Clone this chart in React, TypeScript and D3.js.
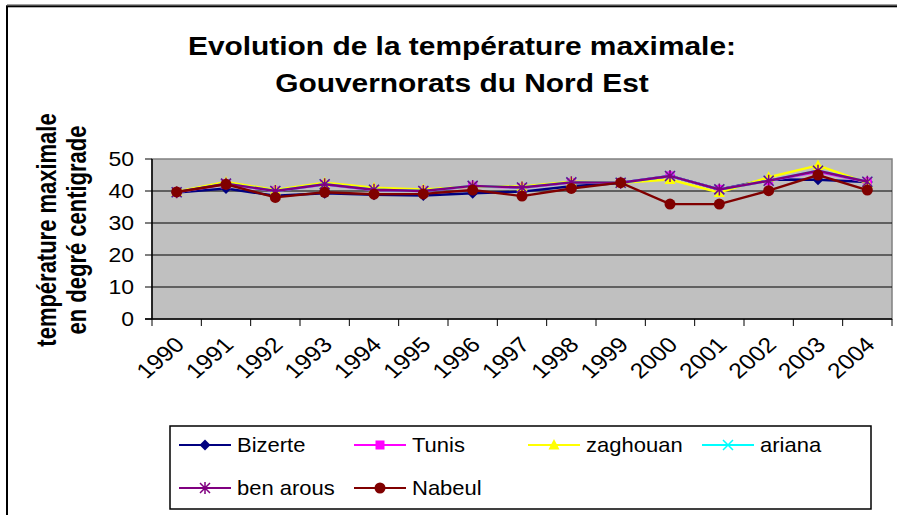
import React from "react";
import * as d3 from "d3";

const years = ["1990","1991","1992","1993","1994","1995","1996","1997","1998","1999","2000","2001","2002","2003","2004"];
const bizerte = [39.5, 40.8, 38.5, 39.3, 38.8, 38.6, 39.3, 39.8, 41.5, 42.5, 44.7, 40.5, 43.6, 43.5, 42.8];
const tunis = [39.6, 42.2, 40.0, 42.0, 40.3, 40.0, 41.5, 41.0, 42.6, 42.6, 44.7, 40.5, 43.2, 46.0, 42.8];
const zaghouan = [39.8, 42.8, 40.3, 42.6, 41.0, 40.5, 41.4, 41.4, 42.9, 42.6, 43.6, 39.5, 44.3, 48.0, 42.5];
const ariana = [39.6, 42.3, 40.0, 42.1, 40.4, 40.0, 41.6, 41.1, 42.7, 42.6, 44.7, 40.5, 43.2, 46.3, 42.9];
const benArous = [39.6, 42.3, 40.0, 42.1, 40.4, 40.0, 41.6, 41.1, 42.7, 42.6, 44.7, 40.5, 43.2, 46.3, 42.9];
const nabeul = [39.7, 42.1, 38.0, 39.6, 39.0, 39.1, 40.3, 38.4, 40.8, 42.6, 35.9, 35.9, 40.1, 45.0, 40.3];
const yTicks = [0, 10, 20, 30, 40, 50];

type Shape = "diamond" | "square" | "triangle" | "x" | "star" | "circle";
const series: { name: string; values: number[]; color: string; shape: Shape }[] = [
  { name: "Bizerte", values: bizerte, color: "#000080", shape: "diamond" },
  { name: "Tunis", values: tunis, color: "#FF00FF", shape: "square" },
  { name: "zaghouan", values: zaghouan, color: "#FFFF00", shape: "triangle" },
  { name: "ariana", values: ariana, color: "#00FFFF", shape: "x" },
  { name: "ben arous", values: benArous, color: "#800080", shape: "star" },
  { name: "Nabeul", values: nabeul, color: "#800000", shape: "circle" },
];

const SX = 1.15;
const FONT = "'Liberation Sans', Arial, sans-serif";

function Marker({ shape, color, x, y }: { shape: Shape; color: string; x: number; y: number }) {
  const t = `translate(${x},${y})`;
  switch (shape) {
    case "diamond":
      return <path transform={t} d="M0,-5.5L5.5,0L0,5.5L-5.5,0Z" fill={color} />;
    case "square":
      return <rect transform={t} x={-4.5} y={-4.5} width={9} height={9} fill={color} />;
    case "triangle":
      return <path transform={t} d="M0,-6L5.5,4.5L-5.5,4.5Z" fill={color} />;
    case "x":
      return <path transform={t} d="M-5,-5L5,5M5,-5L-5,5" stroke={color} strokeWidth={1.5} fill="none" />;
    case "star":
      return <path transform={t} d="M-5,-5L5,5M5,-5L-5,5M0,-6L0,6" stroke={color} strokeWidth={1.5} fill="none" />;
    case "circle":
      return <circle transform={t} r={5.5} fill={color} />;
  }
}

export default function App() {
  const left = 152, right = 892, top = 159, bottom = 319;
  const x = d3.scaleBand().domain(years).range([left, right]);
  const bw = x.bandwidth();
  const cx = (yr: string) => (x(yr) as number) + bw / 2;
  const y = d3.scaleLinear().domain([0, 50]).range([bottom, top]);
  const line = d3.line<number>().x((_, i) => cx(years[i])).y((v) => y(v));
  const boundaries = years.map((yr) => x(yr) as number).concat([right]);

  const legendCols = [179, 354, 528, 702];
  const legendRows = [445, 488];

  return (
    <svg width={897} height={515} style={{ position: "absolute", left: 0, top: 0, background: "#fff" }} fontFamily={FONT}>
      <line x1={7} x2={897} y1={4.5} y2={4.5} stroke="#a0a0a0" strokeWidth={1} />
      <rect x={7} y={6.3} width={900} height={520} fill="#fff" stroke="#000" strokeWidth={2} />

      <text textAnchor="middle" fontWeight="bold" fontSize={26} transform={`translate(462,55) scale(${SX},1)`}>Evolution de la température maximale:</text>
      <text textAnchor="middle" fontWeight="bold" fontSize={26} transform={`translate(462,92) scale(${SX},1)`}>Gouvernorats du Nord Est</text>

      <text textAnchor="middle" fontWeight="bold" fontSize={22} transform={`translate(56,230) scale(1.22,1) rotate(-90)`}>température maximale</text>
      <text textAnchor="middle" fontWeight="bold" fontSize={22} transform={`translate(86,230) scale(1.22,1) rotate(-90)`}>en degré centigrade</text>

      <rect x={left} y={top} width={right - left} height={bottom - top} fill="#C0C0C0" stroke="#808080" strokeWidth={1.5} />
      {yTicks.filter((t) => t > 0 && t < 50).map((t) => (
        <line key={t} x1={left} x2={right} y1={y(t)} y2={y(t)} stroke="#000" strokeWidth={1} />
      ))}
      <line x1={left} x2={left} y1={top} y2={bottom} stroke="#000" strokeWidth={1.5} />
      <line x1={145} x2={right} y1={bottom} y2={bottom} stroke="#000" strokeWidth={1.5} />
      {yTicks.map((t) => (
        <g key={t}>
          <line x1={145} x2={left} y1={y(t)} y2={y(t)} stroke="#000" strokeWidth={1} />
          <text x={0} y={0} textAnchor="end" fontSize={20} transform={`translate(134,${y(t) + 7}) scale(${SX},1)`}>{t}</text>
        </g>
      ))}
      {boundaries.map((b, i) => (
        <line key={i} x1={b} x2={b} y1={bottom} y2={bottom + 7} stroke="#000" strokeWidth={1} />
      ))}
      {years.map((yr) => (
        <text key={yr} textAnchor="end" fontSize={21.5} transform={`translate(${cx(yr) + 9},346) scale(${SX},1) rotate(-45)`}>{yr}</text>
      ))}

      {series.map((s) => (
        <g key={s.name}>
          <path d={line(s.values) as string} fill="none" stroke={s.color} strokeWidth={2.4} />
          {s.values.map((v, i) => (
            <Marker key={i} shape={s.shape} color={s.color} x={cx(years[i])} y={y(v)} />
          ))}
        </g>
      ))}

      <rect x={170} y={426} width={701} height={83} fill="#fff" stroke="#000" strokeWidth={1.5} />
      {series.map((s, i) => {
        const col = i % 4, row = Math.floor(i / 4);
        const lx = legendCols[col], ly = legendRows[row];
        return (
          <g key={s.name}>
            <line x1={lx} x2={lx + 52} y1={ly} y2={ly} stroke={s.color} strokeWidth={2} />
            <Marker shape={s.shape} color={s.color} x={lx + 26} y={ly} />
            <text fontSize={20} transform={`translate(${lx + 58},${ly + 7}) scale(1.1,1)`}>{s.name}</text>
          </g>
        );
      })}
    </svg>
  );
}
